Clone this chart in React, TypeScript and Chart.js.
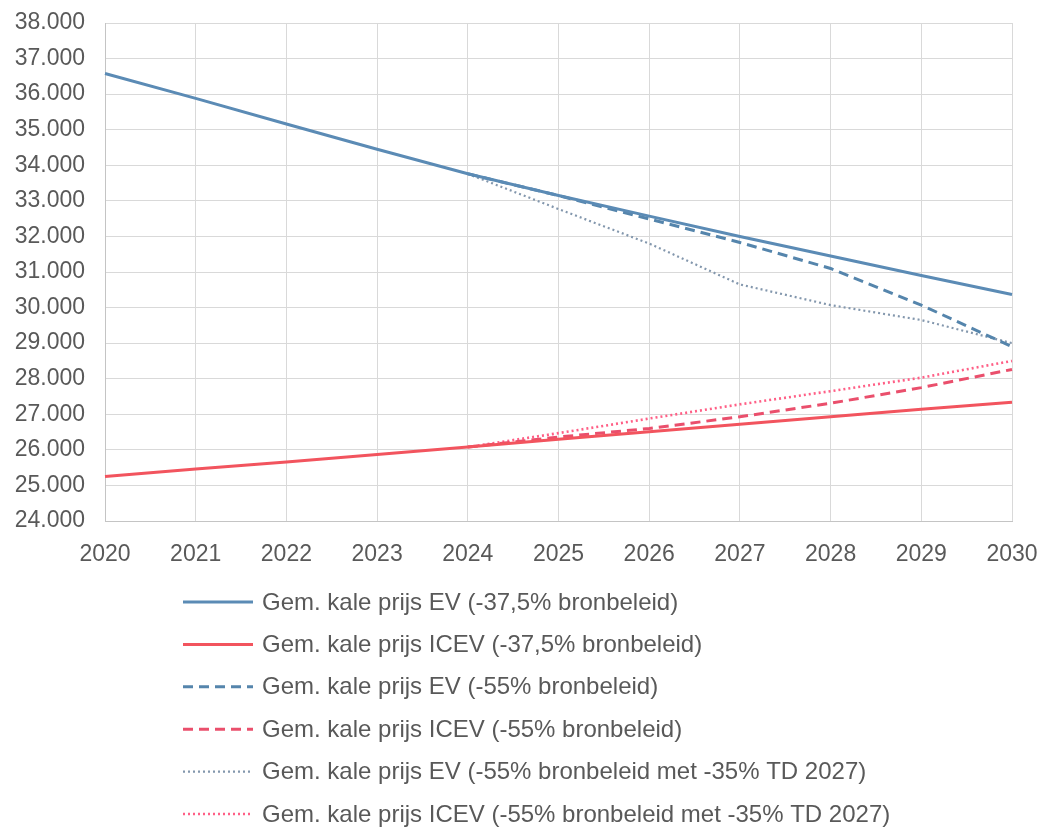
import React, { useEffect, useRef } from "react";
import { Chart, registerables } from "chart.js";

Chart.register(...registerables);

const years = ["2020", "2021", "2022", "2023", "2024", "2025", "2026", "2027", "2028", "2029", "2030"];
const evBase = [36580, 35880, 35160, 34450, 33760, 33150, 32570, 32000, 31450, 30900, 30370];
const icevBase = [25250, 25460, 25660, 25870, 26080, 26300, 26510, 26720, 26930, 27140, 27340];
const ev55 = [null, null, null, null, 33760, 33150, 32490, 31830, 31100, 30070, 28900];
const icev55 = [null, null, null, null, 26080, 26360, 26600, 26930, 27310, 27750, 28260];
const evTD = [null, null, null, null, 33760, 32770, 31800, 30650, 30070, 29650, 29000];
const icevTD = [null, null, null, null, 26080, 26470, 26880, 27280, 27650, 28030, 28500];
const labels = [
  "Gem. kale prijs EV (-37,5% bronbeleid)",
  "Gem. kale prijs ICEV (-37,5% bronbeleid)",
  "Gem. kale prijs EV (-55% bronbeleid)",
  "Gem. kale prijs ICEV (-55% bronbeleid)",
  "Gem. kale prijs EV (-55% bronbeleid met -35% TD 2027)",
  "Gem. kale prijs ICEV (-55% bronbeleid met -35% TD 2027)",
];

const FONT = "'Liberation Sans', Arial, sans-serif";
const TEXT = "#595959";

const fmt = (v: number) => {
  const s = Math.round(v).toString();
  return s.replace(/\B(?=(\d{3})+(?!\d))/g, ".");
};

const legendPlugin = {
  id: "vlegend",
  afterDraw(chart: any) {
    const ctx = chart.ctx;
    const x0 = 183;
    const x1 = 253;
    const tx = 262;
    const y0 = 602;
    const step = 42.4;
    ctx.save();
    chart.data.datasets.forEach((ds: any, i: number) => {
      const y = y0 + i * step;
      ctx.beginPath();
      ctx.strokeStyle = ds.borderColor;
      ctx.lineWidth = ds.borderWidth;
      ctx.setLineDash(ds.borderDash || []);
      ctx.moveTo(x0, y);
      ctx.lineTo(x1, y);
      ctx.stroke();
      ctx.setLineDash([]);
      ctx.fillStyle = TEXT;
      ctx.font = `24px ${FONT}`;
      ctx.textBaseline = "middle";
      ctx.textAlign = "left";
      ctx.fillText(ds.label, tx, y + 1);
    });
    ctx.restore();
  },
};

export default function App() {
  const ref = useRef<HTMLCanvasElement>(null);
  useEffect(() => {
    if (!ref.current) return;
    const chart = new Chart(ref.current, {
      type: "line",
      data: {
        labels: years,
        datasets: [
          { label: labels[0], data: evBase, borderColor: "#5b8bb5", borderWidth: 3 },
          { label: labels[1], data: icevBase, borderColor: "#f2545e", borderWidth: 3 },
          { label: labels[2], data: ev55, borderColor: "#5585ac", borderWidth: 3, borderDash: [10, 6] },
          { label: labels[3], data: icev55, borderColor: "#ea4f6c", borderWidth: 3, borderDash: [10, 6] },
          { label: labels[4], data: evTD, borderColor: "#8397ad", borderWidth: 2.2, borderDash: [2, 3] },
          { label: labels[5], data: icevTD, borderColor: "#ff5f86", borderWidth: 2.6, borderDash: [2, 3] },
        ] as any,
      },
      options: {
        animation: false,
        responsive: false,
        maintainAspectRatio: false,
        layout: { padding: { top: 23, right: 29, bottom: 0, left: 0 } },
        elements: { point: { radius: 0 }, line: { tension: 0 } },
        plugins: { legend: { display: false }, tooltip: { enabled: false } },
        scales: {
          x: {
            offset: false,
            grid: { color: "#d9d9d9", lineWidth: 1, drawTicks: false },
            border: { color: "#c4c4c4", width: 1 },
            ticks: { color: TEXT, font: { family: FONT, size: 23 }, padding: 20, maxRotation: 0, autoSkip: false },
            afterFit: (s: any) => {
              s.height = 827 - 521;
              s.paddingLeft = 0;
              s.paddingRight = 0;
            },
          },
          y: {
            min: 24000,
            max: 38000,
            grid: { color: "#d9d9d9", lineWidth: 1, drawTicks: false },
            border: { color: "#c4c4c4", width: 1 },
            ticks: { stepSize: 1000, color: TEXT, font: { family: FONT, size: 23 }, padding: 20, callback: (v: any) => fmt(Number(v)) },
            afterFit: (s: any) => {
              s.width = 105;
              s.paddingTop = 0;
              s.paddingBottom = 0;
            },
          },
        },
      },
      plugins: [legendPlugin],
    });
    return () => chart.destroy();
  }, []);
  return (
    <div style={{ position: "fixed", left: 0, top: 0, width: 1041, height: 827, background: "#fff" }}>
      <canvas ref={ref} width={1041} height={827} style={{ display: "block", width: 1041, height: 827 }} />
    </div>
  );
}
